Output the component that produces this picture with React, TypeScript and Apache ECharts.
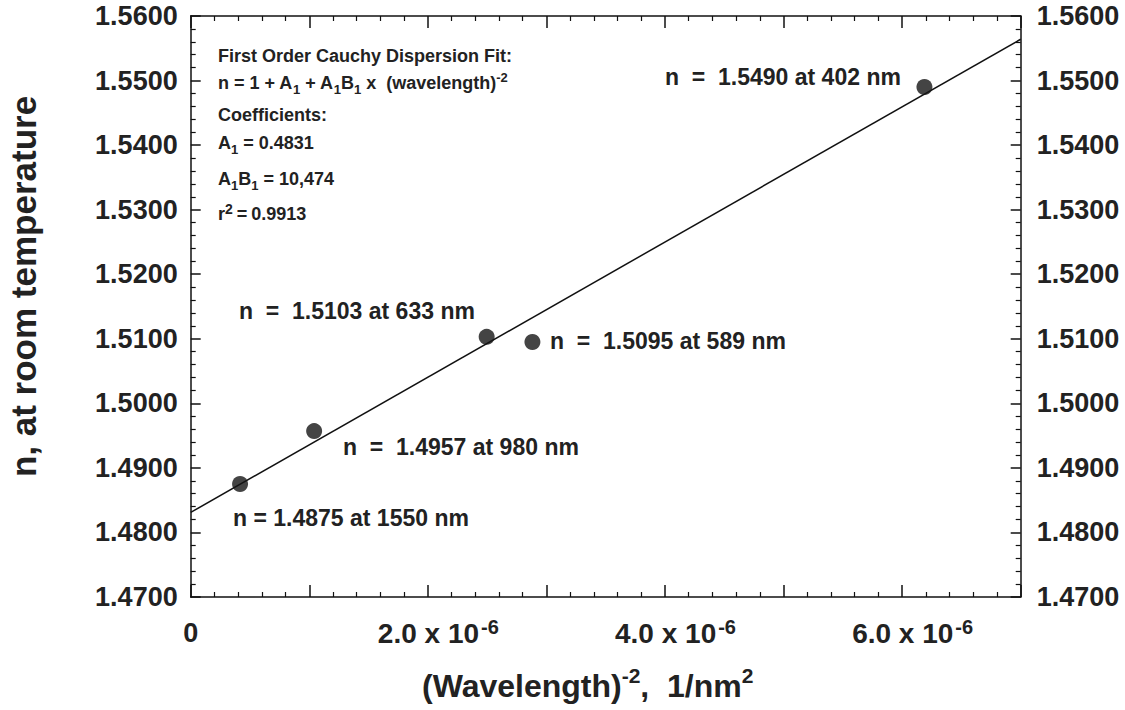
import React, { useEffect, useRef } from 'react';
import * as echarts from 'echarts';

const FONT = '"Liberation Sans", Arial, Helvetica, sans-serif';
const TEXT = '#222222';
const AXIS = '#111111';

// data
const invWavelengthSq = [4.162e-7, 1.041e-6, 2.496e-6, 2.882e-6, 6.188e-6];
const refractiveIndex = [1.4875, 1.4957, 1.5103, 1.5095, 1.549];
const wavelengthNm = [1550, 980, 633, 589, 402];
const fitX = [0, 7e-6];
const fitN = [1.4831, 1.5564];

const X_MIN = 0;
const X_MAX = 7e-6;
const X_STEP = 1e-6;
const Y_MIN = 1.47;
const Y_MAX = 1.56;
const Y_STEP = 0.01;

// annotation lines (rich text)
const noteLines = [
  'First Order Cauchy Dispersion Fit:',
  'n = 1 + A{sub|1} + A{sub|1}B{sub|1} x  (wavelength){sup|-2}',
  'Coefficients:',
  'A{sub|1} = 0.4831',
  'A{sub|1}B{sub|1} = 10,474',
  'r{sup2|2}{t|=}0.9913',
];
const noteY = [56, 83, 115, 143, 179, 214];

// point label placements (left x, centre y) in pixels
const pointLabelPos = [
  [233, 518],
  [343, 447],
  [239, 311],
  [550, 341],
  [665, 77],
];
const pointLabelWide = [false, true, true, true, true];

const nb = (n: number) => '\u00a0'.repeat(n);

export default function App() {
  const ref = useRef<HTMLDivElement>(null);

  useEffect(() => {
    document.body.style.margin = '0';
    const chart = echarts.init(ref.current!, null, { renderer: 'svg' });

    const lineStyle = { color: AXIS, width: 1.5 };
    const baseAxis = {
      type: 'value' as const,
      axisLine: { show: true, onZero: false, lineStyle },
      axisTick: { show: true, inside: true, length: 12, lineStyle },
      minorTick: { show: true, splitNumber: 5, length: 5, lineStyle: { color: AXIS, width: 1.2 } },
      splitLine: { show: false },
    };

    const xLabelRich = {
      z: { fontSize: 27, fontWeight: 'bold', fontFamily: FONT, color: TEXT, lineHeight: 32 },
      lead: { width: 21, fontSize: 27, lineHeight: 32 },
      b: { fontSize: 28, fontWeight: 'bold', fontFamily: FONT, color: TEXT, lineHeight: 32 },
      sup: { fontSize: 20, fontWeight: 'bold', fontFamily: FONT, color: TEXT, lineHeight: 16, verticalAlign: 'top', padding: [0, 0, 0, 2] },
    };

    const yLabel = {
      fontSize: 27,
      fontWeight: 'bold',
      fontFamily: FONT,
      color: TEXT,
      formatter: (v: number) => v.toFixed(4),
    };

    const noteRich = {
      sub: { fontSize: 13, fontWeight: 'bold', fontFamily: FONT, fill: TEXT, lineHeight: 11, verticalAlign: 'bottom' },
      sup: { fontSize: 13, fontWeight: 'bold', fontFamily: FONT, fill: TEXT, lineHeight: 11, verticalAlign: 'top' },
      sup2: { fontSize: 14, fontWeight: 'bold', fontFamily: FONT, fill: TEXT, lineHeight: 20, verticalAlign: 'top' },
      t: { fontSize: 18, fontWeight: 'bold', fontFamily: FONT, fill: TEXT, lineHeight: 25, padding: [0, 4, 0, 4] },
    };

    const graphics: any[] = [];
    noteLines.forEach((txt, i) => {
      graphics.push({
        type: 'text',
        x: 218,
        y: noteY[i],
        style: {
          text: txt,
          font: `bold 18px ${FONT}`,
          fill: TEXT,
          lineHeight: 25,
          rich: noteRich,
          textVerticalAlign: 'middle',
          textAlign: 'left',
        },
      });
    });
    wavelengthNm.forEach((w, i) => {
      const sp = pointLabelWide[i] ? nb(2) : nb(1);
      const txt = `n${sp}=${sp}${refractiveIndex[i].toFixed(4)} at ${w} nm`;
      graphics.push({
        type: 'text',
        x: pointLabelPos[i][0],
        y: pointLabelPos[i][1],
        style: {
          text: txt,
          font: `bold 23px ${FONT}`,
          fill: TEXT,
          textVerticalAlign: 'middle',
          textAlign: 'left',
        },
      });
    });

    const option: any = {
      animation: false,
      backgroundColor: '#ffffff',
      grid: {
        left: 190.7,
        right: 104.3,
        top: 16,
        bottom: 113,
        containLabel: false,
        outerBoundsMode: 'none',
      },
      xAxis: [
        {
          ...baseAxis,
          position: 'bottom',
          min: X_MIN,
          max: X_MAX,
          interval: X_STEP,
          axisLabel: {
            margin: 20,
            formatter: (v: number) => {
              const k = Math.round(v / X_STEP);
              if (k === 0) return '{z|0}';
              if (k % 2 !== 0) return '';
              return `{lead|${nb(1)}}{b|${k}.0 x 10}{sup|-6}`;
            },
            rich: xLabelRich,
          },
          name: '(Wavelength){sup|-2}{b|,  1/nm}{sup|2}',
          nameLocation: 'middle',
          nameGap: 68,
          nameTextStyle: {
            fontSize: 32,
            fontWeight: 'bold',
            fontFamily: FONT,
            color: TEXT,
            lineHeight: 42,
            padding: [0, 36, 0, 0],
            rich: {
              b: { fontSize: 32, fontWeight: 'bold', fontFamily: FONT, color: TEXT, lineHeight: 42 },
              sup: { fontSize: 21, fontWeight: 'bold', fontFamily: FONT, color: TEXT, lineHeight: 16, verticalAlign: 'top' },
            },
          },
        },
        {
          ...baseAxis,
          position: 'top',
          min: X_MIN,
          max: X_MAX,
          interval: X_STEP,
          axisLabel: { show: false },
        },
      ],
      yAxis: [
        {
          ...baseAxis,
          position: 'left',
          min: Y_MIN,
          max: Y_MAX,
          interval: Y_STEP,
          axisTick: { show: true, inside: true, length: 10, lineStyle },
          axisLabel: { ...yLabel, margin: 13 },
          name: 'n, at room temperature',
          nameLocation: 'middle',
          nameRotate: 90,
          nameGap: 150,
          nameTextStyle: {
            fontSize: 35,
            fontWeight: 'bold',
            fontFamily: FONT,
            color: TEXT,
            lineHeight: 34,
            padding: [0, 0, 0, 40],
          },
        },
        {
          ...baseAxis,
          position: 'right',
          min: Y_MIN,
          max: Y_MAX,
          interval: Y_STEP,
          axisTick: { show: true, inside: true, length: 10, lineStyle },
          axisLabel: { ...yLabel, margin: 16 },
        },
      ],
      series: [
        {
          name: 'Cauchy fit',
          type: 'line',
          xAxisIndex: 0,
          yAxisIndex: 0,
          data: fitX.map((x, i) => [x, fitN[i]]),
          symbol: 'none',
          lineStyle: { color: AXIS, width: 1.5 },
          z: 2,
        },
        {
          name: 'Measured',
          type: 'scatter',
          xAxisIndex: 0,
          yAxisIndex: 0,
          data: invWavelengthSq.map((x, i) => [x, refractiveIndex[i]]),
          symbol: 'circle',
          symbolSize: 16,
          itemStyle: { color: '#151515' },
          z: 3,
        },
      ],
      graphic: graphics,
    };

    chart.setOption(option);
    return () => chart.dispose();
  }, []);

  return <div ref={ref} style={{ width: 1125, height: 710 }} />;
}
